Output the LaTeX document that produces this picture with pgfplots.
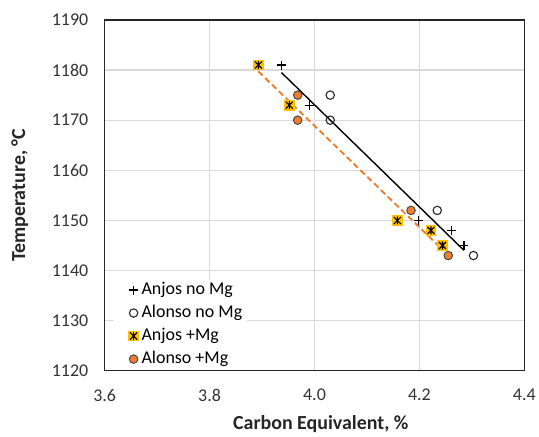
\documentclass[border=0pt]{standalone}
\usepackage{pgfplots}
\pgfplotsset{compat=1.18}
\usepackage{pgfplotstable}
\usepackage{fontspec}
\setmainfont{Carlito}

\definecolor{mkorange}{HTML}{ED7D31}
\definecolor{mkyellow}{HTML}{FFC000}
\definecolor{gridgray}{HTML}{D9D9D9}

% yellow square with a black star (x plus vertical bar)
\pgfdeclareplotmark{ystar}{%
  \pgfpathrectangle{\pgfqpoint{-\pgfplotmarksize}{-\pgfplotmarksize}}%
                   {\pgfqpoint{2\pgfplotmarksize}{2\pgfplotmarksize}}%
  \pgfusepathqfill
  \pgfpathmoveto{\pgfqpoint{-0.65\pgfplotmarksize}{-0.65\pgfplotmarksize}}%
  \pgfpathlineto{\pgfqpoint{0.65\pgfplotmarksize}{0.65\pgfplotmarksize}}%
  \pgfpathmoveto{\pgfqpoint{-0.65\pgfplotmarksize}{0.65\pgfplotmarksize}}%
  \pgfpathlineto{\pgfqpoint{0.65\pgfplotmarksize}{-0.65\pgfplotmarksize}}%
  \pgfpathmoveto{\pgfqpoint{0pt}{-0.75\pgfplotmarksize}}%
  \pgfpathlineto{\pgfqpoint{0pt}{0.75\pgfplotmarksize}}%
  \pgfusepathqstroke
}

\pgfplotstableread{
x y
3.937 1181
3.990 1173
4.198 1150
4.261 1148
4.285 1145
}\anjosnomg

\pgfplotstableread{
x y
4.030 1175
4.030 1170
4.234 1152
4.303 1143
}\alonsonomg

\pgfplotstableread{
x y
3.893 1181
3.952 1173
4.158 1150
4.222 1148
4.244 1145
}\anjosmg

\pgfplotstableread{
x y
3.968 1175
3.968 1170
4.184 1152
4.255 1143
}\alonsomg

\begin{document}
\begin{tikzpicture}
\begin{axis}[
  name=ax,
  scale only axis,
  width=421pt, height=352pt,
  xmin=3.6, xmax=4.4, ymin=1120, ymax=1190,
  xtick={3.6,3.8,4.0,4.2,4.4},
  ytick={1120,1130,1140,1150,1160,1170,1180,1190},
  xticklabel style={/pgf/number format/fixed, /pgf/number format/fixed zerofill,
    /pgf/number format/precision=1, yshift=-15pt},
  yticklabel style={/pgf/number format/1000 sep={}, xshift=-13pt},
  /pgf/number format/assume math mode=true,
  tick label style={font=\fontsize{18}{20}\selectfont, text=black!80},
  major tick length=0pt,
  grid=major,
  grid style={draw=gridgray, line width=1.2pt},
  axis line style={draw=black!85, line width=1.3pt},
  xlabel={Carbon Equivalent, \%},
  ylabel={Temperature, °C},
  xlabel style={font=\bfseries\fontsize{20}{22}\selectfont, text=black!85,
    at={(axis description cs:0.515,0)}, anchor=base, yshift=-59pt},
  ylabel style={font=\bfseries\fontsize{20}{22}\selectfont, text=black!85,
    at={(axis description cs:-0.202,0.5)}, anchor=center},
  legend cell align=left,
  legend style={at={(axis description cs:0.021,0.003)}, anchor=south west,
    draw=none, fill=white, font=\fontsize{18}{20}\selectfont,
    inner ysep=0pt, inner xsep=3pt,
    nodes={text height=13pt, text depth=4pt, inner sep=2pt},
    row sep=2.1pt},
  legend image code/.code={%
    \path[draw=none] (-12pt,0pt) (11pt,0pt);
    \draw[mark repeat=2, mark phase=2] plot coordinates {(0pt,0pt)(5pt,0pt)(10pt,0pt)};},
]
\addplot[only marks, mark=+, mark size=4.5pt, mark options={draw=black, line width=1.1pt}]
  table {\anjosnomg};
\addlegendentry{Anjos no Mg}
\addplot[only marks, mark=o, mark size=4.2pt, mark options={draw=black!85, fill=white, line width=1.1pt}]
  table {\alonsonomg};
\addlegendentry{Alonso no Mg}
\addplot[only marks, mark=ystar, mark size=5.4pt, mark options={draw=black, fill=mkyellow, line width=1.1pt}]
  table {\anjosmg};
\addlegendentry{Anjos +Mg}
\addplot[only marks, mark=*, mark size=4.3pt, mark options={draw=black!75, fill=mkorange, line width=0.9pt}]
  table {\alonsomg};
\addlegendentry{Alonso +Mg}

% linear trend lines
\addplot[black, line width=1.4pt, forget plot]
  table[x=x, y={create col/linear regression={y=y}}] {\anjosnomg};
\addplot[mkorange, line width=1.9pt, dash pattern=on 6pt off 3.5pt, forget plot]
  table[x=x, y={create col/linear regression={y=y}}] {\anjosmg};
\end{axis}
\path ([xshift=-105pt,yshift=-62pt]ax.south west) rectangle ([xshift=13pt,yshift=20pt]ax.north east);
\end{tikzpicture}
\end{document}
